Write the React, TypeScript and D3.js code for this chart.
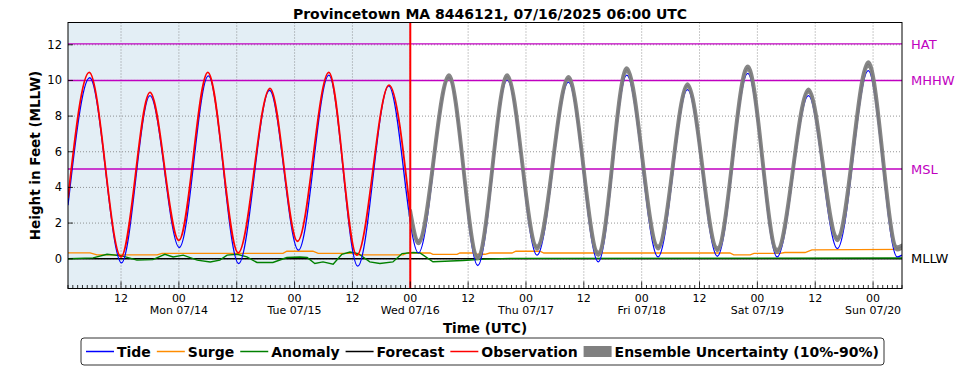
import { useEffect, useRef } from 'react'
import * as d3 from 'd3'

// time axis: hours after 07/13/2025 01:00 UTC
const START = Date.UTC(2025, 6, 13, 1)
const END = Date.UTC(2025, 6, 20, 6)
const NOW_H = 71 // 07/16 00:00 UTC

// [hour, feet] - highs and lows
const tide: [number, number][] = [
  [0, 3.0], [4.5, 10.15], [11.1, -0.23], [17.0, 9.15], [23.1, 0.63], [29.1, 10.26],
  [35.4, -0.27], [41.8, 9.45], [47.8, 0.48], [54.1, 10.3], [60.1, -0.42], [66.5, 9.7],
  [72.7, 0.33], [79.0, 10.15], [85.0, -0.38], [91.1, 10.03], [97.3, 0.2], [103.8, 9.9],
  [110.0, -0.18], [115.9, 10.3], [122.4, 0.1], [128.5, 9.48], [134.7, 0.14], [141.0, 10.4],
  [147.1, 0.1], [153.6, 9.15], [159.6, 0.57], [166.0, 10.55], [172.0, 0.1], [173, 0.2],
]

const observation: [number, number][] = [
  [0, 3.4], [4.4, 10.45], [11.0, 0.1], [17.0, 9.33], [23.0, 1.03], [29.0, 10.45],
  [35.3, 0.33], [41.9, 9.56], [47.6, 0.98], [54.1, 10.45], [59.9, 0.2], [66.6, 9.74],
  [71.0, 2.6],
]

const forecast: [number, number][] = [
  [71.0, 2.6], [72.7, 0.92], [79.0, 10.2], [85.0, 0.08], [91.1, 10.22], [97.3, 0.62],
  [103.8, 10.12], [110.0, 0.28], [115.9, 10.6], [122.4, 0.62], [128.5, 9.72], [134.7, 0.52],
  [141.0, 10.7], [147.1, 0.42], [153.6, 9.42], [159.6, 1.1], [166.0, 10.92], [172.0, 0.58],
  [173, 0.68],
]

// [hour, 10%, 90%]
const ensemble: [number, number, number][] = [
  [71.0, 2.5, 2.7], [72.7, 0.85, 1.0], [79.0, 10.12, 10.3], [85.0, 0.02, 0.15],
  [91.1, 10.15, 10.3], [97.3, 0.55, 0.7], [103.8, 10.05, 10.2], [110.0, 0.2, 0.35],
  [115.9, 10.5, 10.7], [122.4, 0.56, 0.7], [128.5, 9.65, 9.8], [134.7, 0.47, 0.6],
  [141.0, 10.6, 10.8], [147.1, 0.37, 0.5], [153.6, 9.35, 9.5], [159.6, 1.03, 1.2],
  [166.0, 10.8, 11.03], [172.0, 0.5, 0.65], [173, 0.6, 0.75],
]

const surge: [number, number][] = [
  [0, 0.33], [4.6, 0.33], [6.0, 0.22], [18.5, 0.22], [19.5, 0.3], [44.6, 0.3],
  [45.4, 0.42], [50.8, 0.42], [51.9, 0.3], [59.1, 0.3], [59.9, 0.22], [69.5, 0.22],
  [70.4, 0.32], [75.1, 0.32], [75.7, 0.24], [80.7, 0.24], [81.3, 0.32], [84.2, 0.32],
  [85.0, 0.25], [86.5, 0.25], [87.5, 0.32], [92.1, 0.32], [92.9, 0.42], [97.9, 0.42],
  [98.7, 0.32], [137.3, 0.32], [138.1, 0.22], [141.5, 0.22], [142.3, 0.3], [147.7, 0.3],
  [148.7, 0.35], [152.9, 0.35], [154.3, 0.5], [173, 0.52],
]

const anomaly: [number, number][] = [
  [0, 0.0], [5.2, 0.05], [8.1, 0.25], [11.2, 0.16], [14.3, -0.08], [17.6, -0.05],
  [20.1, 0.25], [21.8, 0.1], [23.9, 0.2], [26.8, -0.08], [29.5, -0.18], [31.5, -0.08],
  [33.0, 0.2], [35.1, 0.25], [37.1, 0.1], [39.2, -0.21], [42.5, -0.21], [45.4, 0.07],
  [48.1, 0.1], [49.6, 0.07], [51.2, -0.27], [52.9, -0.18], [55.0, -0.31], [56.8, 0.25],
  [58.5, 0.38], [60.2, 0.29], [62.6, -0.18], [64.7, -0.27], [67.4, -0.18], [69.3, 0.29],
  [71.6, 0.35], [73.0, 0.33], [75.7, -0.17], [81.9, -0.1], [86.5, -0.02], [91.7, 0.02],
  [173, 0.04],
]

const yTicks = [0, 2, 4, 6, 8, 10, 12]
const datumNames = ['HAT', 'MHHW', 'MSL', 'MLLW']
const datumValues = [12.05, 10.0, 5.03, 0]
const datumColors = ['#c000c0', '#c000c0', '#c000c0', '#000000']

const legendNames = ['Tide', 'Surge', 'Anomaly', 'Forecast', 'Observation', 'Ensemble Uncertainty (10%-90%)']
const legendColors = ['#0000ff', '#ff8c00', '#008000', '#000000', '#ff0000', '#808080']

export default function App() {
  const svgRef = useRef<SVGSVGElement>(null)

  useEffect(() => {
    if (!svgRef.current) return
    const svg = d3.select(svgRef.current)
    svg.selectAll('*').remove()

    const left = 68
    const right = 902
    const top = 22.5
    const bottom = 288.5
    const font = 'DejaVu Sans'

    const x = d3.scaleUtc().domain([new Date(START), new Date(END)]).range([left, right])
    const y = d3.scaleLinear().domain([-1.67, 13.25]).range([bottom, top])
    const hx = (h: number) => x(new Date(START + h * 3600e3))

    svg.append('defs').append('clipPath').attr('id', 'plotclip')
      .append('rect').attr('x', left).attr('y', top).attr('width', right - left).attr('height', bottom - top)

    // past shading
    svg.append('rect')
      .attr('x', left).attr('y', top)
      .attr('width', hx(NOW_H) - left).attr('height', bottom - top)
      .attr('fill', '#e3eef5')

    // grid
    const grid = svg.append('g').attr('stroke', '#7a7a7a').attr('stroke-width', 0.8).attr('stroke-dasharray', '1,2')
    const major = x.ticks(d3.utcHour.every(12)!)
    grid.selectAll('.gx').data(major).join('line')
      .attr('x1', d => x(d)).attr('x2', d => x(d)).attr('y1', top).attr('y2', bottom)
    grid.selectAll('.gy').data(yTicks).join('line')
      .attr('x1', left).attr('x2', right).attr('y1', d => y(d)).attr('y2', d => y(d))

    // datum lines
    svg.append('g').selectAll('line').data(datumValues).join('line')
      .attr('x1', left).attr('x2', right)
      .attr('y1', d => y(d)).attr('y2', d => y(d))
      .attr('stroke', (_, i) => datumColors[i])
      .attr('stroke-width', (_, i) => (i === 3 ? 1.6 : 1.4))

    const plot = svg.append('g').attr('clip-path', 'url(#plotclip)')
    const line = d3.line<[number, number]>().x(d => hx(d[0])).y(d => y(d[1]))
    const smooth = d3.line<[number, number]>().x(d => hx(d[0])).y(d => y(d[1])).curve(d3.curveMonotoneX)

    plot.append('path').attr('d', line(surge)).attr('fill', 'none').attr('stroke', '#ff8c00').attr('stroke-width', 1.3)
    plot.append('path').attr('d', line(anomaly)).attr('fill', 'none').attr('stroke', '#008000').attr('stroke-width', 1.4)
    plot.append('path').attr('d', smooth(tide)).attr('fill', 'none').attr('stroke', '#0000ff').attr('stroke-width', 1.3)
    plot.append('path').attr('d', smooth(forecast)).attr('fill', 'none').attr('stroke', '#000000').attr('stroke-width', 1.2)

    const band = d3.area<[number, number, number]>()
      .x(d => hx(d[0])).y0(d => y(d[1])).y1(d => y(d[2])).curve(d3.curveMonotoneX)
    plot.append('path').attr('d', band(ensemble))
      .attr('fill', '#808080').attr('stroke', '#808080').attr('stroke-width', 3.6)
      .attr('stroke-linejoin', 'round').attr('opacity', 0.95)

    plot.append('path').attr('d', smooth(observation)).attr('fill', 'none').attr('stroke', '#ff0000').attr('stroke-width', 1.8)

    // now line
    svg.append('line')
      .attr('x1', hx(NOW_H)).attr('x2', hx(NOW_H)).attr('y1', top).attr('y2', bottom)
      .attr('stroke', '#ff0000').attr('stroke-width', 2)

    // frame
    svg.append('rect').attr('x', left).attr('y', top).attr('width', right - left).attr('height', bottom - top)
      .attr('fill', 'none').attr('stroke', '#000').attr('stroke-width', 1)

    // x ticks
    const minor = x.ticks(d3.utcHour.every(1)!)
    svg.append('g').selectAll('line').data(minor).join('line')
      .attr('x1', d => x(d)).attr('x2', d => x(d))
      .attr('y1', bottom).attr('y2', d => bottom - (d.getUTCHours() % 12 === 0 ? 7 : 3.5))
      .attr('stroke', '#000').attr('stroke-width', 0.8)

    const tickText = svg.append('g').attr('font-family', font).attr('font-size', 11).attr('text-anchor', 'middle')
    tickText.selectAll('.hl').data(major).join('text')
      .attr('x', d => x(d)).attr('y', 301.5)
      .text(d => d3.utcFormat('%H')(d))
    tickText.selectAll('.dl').data(major.filter(d => d.getUTCHours() === 0)).join('text')
      .attr('x', d => x(d)).attr('y', 314)
      .text(d => d3.utcFormat('%a %m/%d')(d))

    // y ticks
    svg.append('g').selectAll('line').data(yTicks).join('line')
      .attr('x1', left).attr('x2', left + 5).attr('y1', d => y(d)).attr('y2', d => y(d))
      .attr('stroke', '#000').attr('stroke-width', 0.8)
    svg.append('g').attr('font-family', font).attr('font-size', 11.5).attr('text-anchor', 'end')
      .selectAll('text').data(yTicks).join('text')
      .attr('x', 62).attr('y', d => y(d)).attr('dy', '0.35em')
      .text(d => String(d))

    // datum labels
    svg.append('g').attr('font-family', font).attr('font-size', 13)
      .selectAll('text').data(datumValues).join('text')
      .attr('x', 911).attr('y', d => y(d)).attr('dy', '0.36em')
      .attr('fill', (_, i) => datumColors[i])
      .text((_, i) => datumNames[i])

    // titles
    svg.append('text').attr('x', 490).attr('y', 18.5).attr('text-anchor', 'middle')
      .attr('font-family', font).attr('font-size', 14).attr('font-weight', 'bold')
      .text('Provincetown MA 8446121, 07/16/2025 06:00 UTC')
    svg.append('text').attr('x', (left + right) / 2).attr('y', 333).attr('text-anchor', 'middle')
      .attr('font-family', font).attr('font-size', 13.5).attr('font-weight', 'bold')
      .text('Time (UTC)')
    svg.append('text').attr('transform', `translate(40,${(top + bottom) / 2}) rotate(-90)`)
      .attr('text-anchor', 'middle')
      .attr('font-family', font).attr('font-size', 13.5).attr('font-weight', 'bold')
      .text('Height in Feet (MLLW)')

    // legend
    const boxX = 81
    const boxW = 803
    const boxY = 338
    const boxH = 27
    const cy = boxY + boxH / 2
    const lg = svg.append('g')
    lg.append('rect').attr('x', boxX).attr('y', boxY).attr('width', boxW).attr('height', boxH)
      .attr('rx', 3).attr('fill', '#fff').attr('stroke', '#333').attr('stroke-width', 1)
    const handle = 28
    const gap = 3
    const items = legendNames.map((name, i) => {
      const g = lg.append('g')
      const t = g.append('text').attr('font-family', font).attr('font-size', 14).attr('font-weight', 'bold')
        .attr('x', handle + gap).attr('y', cy).attr('dy', '0.36em').text(name)
      const w = (t.node() as SVGTextElement).getComputedTextLength()
      if (i === 5) {
        g.append('rect').attr('x', 0).attr('y', cy - 5.5).attr('width', handle).attr('height', 11).attr('fill', legendColors[i])
      } else {
        g.append('line').attr('x1', 0).attr('x2', handle).attr('y1', cy).attr('y2', cy)
          .attr('stroke', legendColors[i]).attr('stroke-width', 1.5)
      }
      return { g, w: handle + gap + w }
    })
    const pad = 5
    const total = d3.sum(items, d => d.w)
    const spacing = (boxW - 2 * pad - total) / (items.length - 1)
    let cx = boxX + pad
    items.forEach(it => {
      it.g.attr('transform', `translate(${cx},0)`)
      cx += it.w + spacing
    })
  }, [])

  return (
    <svg
      ref={svgRef}
      width={969}
      height={370}
      style={{ position: 'absolute', left: 0, top: 0, background: '#fff' }}
    />
  )
}
